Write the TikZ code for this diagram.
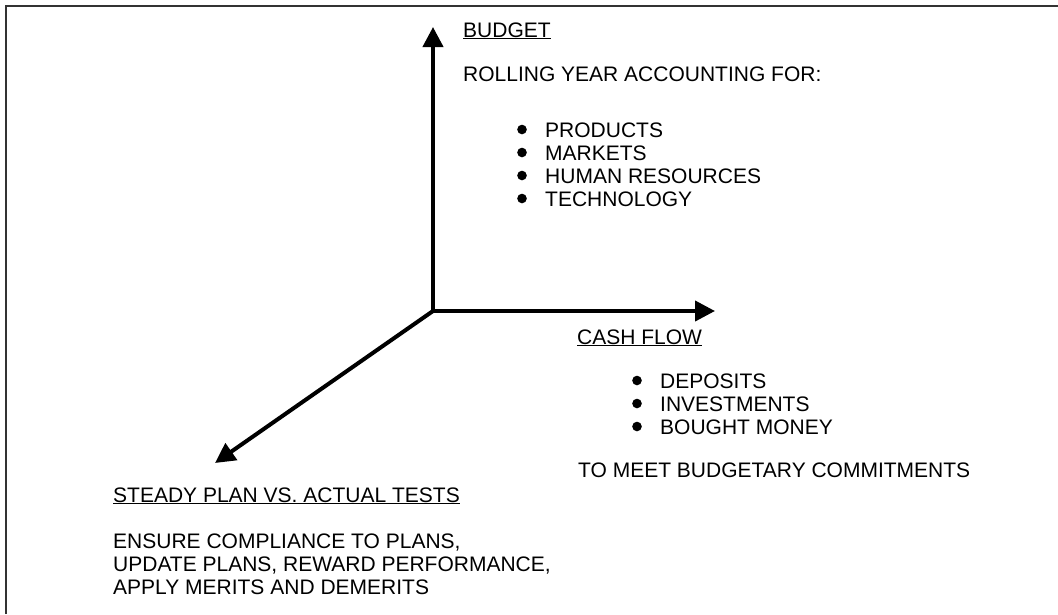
\documentclass[tikz,border=0pt]{standalone}
\usepackage{fontspec}
\setmainfont{Liberation Sans}
\usetikzlibrary{
    arrows.meta,
    positioning
}
\tikzset{
    axis/.style={-{Triangle[length=20pt,width=20pt]}, line width=4pt, black},
    frame/.style={line width=2pt, black!80},
    label/.style={anchor=base west, inner sep=0pt, font=\fontsize{21}{23}\selectfont},
    dot/.style={circle, fill=black, inner sep=3.4pt}
}

\begin{document}
\begin{tikzpicture}[x=1pt, y=-1pt]
    \useasboundingbox (0,0) rectangle (1058,614);
    \draw[frame] (6,614) -- (6,6) -- (1058,6);

    \coordinate (origin) at (433,311);
    \coordinate (budgettip) at (433,27);
    \coordinate (cashtip) at (715,311);
    \coordinate (steadytip) at (215,463);
    \draw[axis] (origin) -- (budgettip);
    \draw[axis] (origin) -- (cashtip);
    \draw[axis] (origin) -- (steadytip);

    % budget
    \node[label] (budget) at (463,37) {\underline{BUDGET}};
    \node[label] (rolling) at (463,81) {ROLLING YEAR ACCOUNTING FOR:};
    \foreach \i/\txt in {0/PRODUCTS,1/MARKETS,2/HUMAN RESOURCES,3/TECHNOLOGY}{
        \node[dot] (bud\i) at (522,129.5+23*\i) {};
        \node[label] (budtxt\i) at (545,137+23*\i) {\txt};
    }

    % cash flow
    \node[label] (cash) at (577,344) {\underline{CASH FLOW}};
    \foreach \i/\txt in {0/DEPOSITS,1/INVESTMENTS,2/BOUGHT MONEY}{
        \node[dot] (cash\i) at (637,380.5+23*\i) {};
        \node[label] (cashtxt\i) at (660,388+23*\i) {\txt};
    }
    \node[label] (meet) at (578,477) {TO MEET BUDGETARY COMMITMENTS};

    % steady plan
    \node[label] (steady) at (113,502) {\underline{STEADY PLAN VS. ACTUAL TESTS}};
    \foreach \i/\txt in {0/{ENSURE COMPLIANCE TO PLANS,},1/{UPDATE PLANS, REWARD PERFORMANCE,},2/{APPLY MERITS AND DEMERITS}}{
        \node[label] (ensure\i) at (113,548+23*\i) {\txt};
    }
\end{tikzpicture}
\end{document}
